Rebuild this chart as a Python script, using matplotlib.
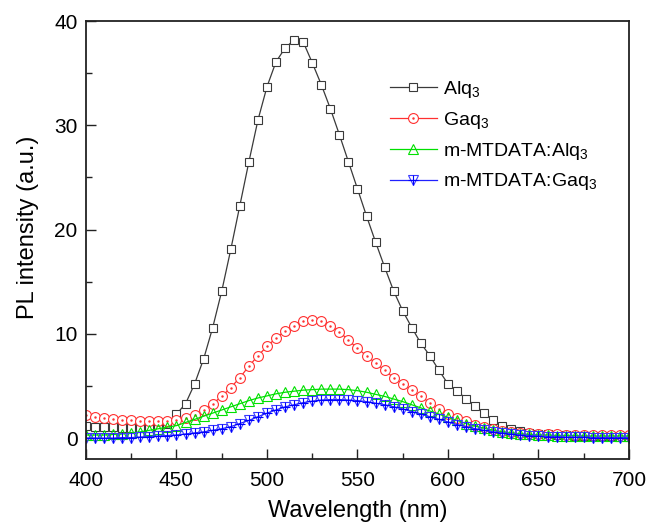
import numpy as np
import matplotlib
matplotlib.use("Agg")
import matplotlib.pyplot as plt
from matplotlib.legend_handler import HandlerTuple

plt.rcParams['font.family'] = ['Liberation Sans', 'DejaVu Sans']
plt.rcParams['mathtext.fontset'] = 'custom'
plt.rcParams['mathtext.rm'] = 'Liberation Sans'
plt.rcParams['mathtext.it'] = 'Liberation Sans:italic'

# panjang gelombang (nm), tiap 5 nm
wavelength = np.arange(400, 705, 5)

alq3 = [1.2, 1.1, 1.1, 1.1, 1.0, 1.0, 1.0, 1.0, 1.1, 1.4,
        2.3, 3.3, 5.2, 7.6, 10.6, 14.1, 18.1, 22.3, 26.5, 30.5,
        33.7, 36.1, 37.4, 38.2, 38.0, 36.0, 33.9, 31.6, 29.1, 26.5,
        23.9, 21.3, 18.8, 16.4, 14.1, 12.2, 10.6, 9.1, 7.9, 6.5,
        5.2, 4.5, 3.8, 3.1, 2.4, 1.7, 1.2, 0.9, 0.7, 0.5,
        0.4, 0.35, 0.3, 0.3, 0.25, 0.25, 0.2, 0.2, 0.2, 0.15, 0.15]

gaq3 = [2.2, 2.05, 1.95, 1.85, 1.75, 1.7, 1.65, 1.6, 1.6, 1.65,
        1.75, 1.9, 2.2, 2.65, 3.3, 4.0, 4.85, 5.8, 6.9, 7.9,
        8.8, 9.6, 10.3, 10.8, 11.2, 11.3, 11.2, 10.8, 10.2, 9.4,
        8.6, 7.9, 7.2, 6.5, 5.8, 5.2, 4.6, 4.0, 3.4, 2.8,
        2.35, 1.95, 1.6, 1.3, 1.05, 0.85, 0.7, 0.6, 0.5, 0.45,
        0.4, 0.35, 0.35, 0.3, 0.3, 0.3, 0.3, 0.3, 0.3, 0.3, 0.3]

mtdata_alq3 = [0.3, 0.3, 0.3, 0.35, 0.4, 0.5, 0.6, 0.75, 0.9, 1.05,
               1.2, 1.5, 1.8, 2.1, 2.4, 2.7, 3.0, 3.3, 3.6, 3.85,
               4.05, 4.25, 4.4, 4.5, 4.6, 4.65, 4.7, 4.7, 4.7, 4.65,
               4.55, 4.4, 4.2, 4.0, 3.75, 3.5, 3.2, 2.9, 2.6, 2.3,
               2.0, 1.7, 1.4, 1.15, 0.95, 0.75, 0.6, 0.5, 0.4, 0.35,
               0.3, 0.3, 0.25, 0.25, 0.25, 0.2, 0.2, 0.2, 0.2, 0.2, 0.2]

mtdata_gaq3 = [0.0, 0.0, 0.0, 0.0, 0.05, 0.05, 0.1, 0.15, 0.2, 0.25,
               0.3, 0.4, 0.5, 0.6, 0.75, 0.9, 1.1, 1.4, 1.7, 2.05,
               2.4, 2.7, 3.0, 3.2, 3.4, 3.55, 3.65, 3.7, 3.7, 3.65,
               3.6, 3.5, 3.35, 3.2, 3.0, 2.8, 2.55, 2.3, 2.05, 1.8,
               1.55, 1.3, 1.1, 0.9, 0.75, 0.6, 0.5, 0.4, 0.3, 0.25,
               0.2, 0.15, 0.15, 0.1, 0.1, 0.1, 0.05, 0.05, 0.05, 0.05, 0.05]

labels = ['Alq$_3$', 'Gaq$_3$', 'm-MTDATA:Alq$_3$', 'm-MTDATA:Gaq$_3$']

fig = plt.figure(figsize=(6.6, 5.23), dpi=100)
ax = fig.add_axes([0.1303, 0.1224, 0.8227, 0.8374])

ms = 6.3
mew = 0.8
lw = 0.9

h1, = ax.plot(wavelength, alq3, color='#3a3a3a', lw=lw, marker='s', ms=ms,
              mfc='white', mec='#3a3a3a', mew=mew)

h2, = ax.plot(wavelength, gaq3, color='#ff3030', lw=lw, marker='o', ms=ms + 0.8,
              mfc='white', mec='#ff3030', mew=mew)
h2b, = ax.plot(wavelength, gaq3, ls='none', marker='.', ms=1.5, color='#ff3030')

h3, = ax.plot(wavelength, mtdata_alq3, color='#00e000', lw=lw, marker='^', ms=ms + 1,
              mfc='none', mec='#00e000', mew=mew)

h4, = ax.plot(wavelength, mtdata_gaq3, color='#2020ff', lw=lw, marker='v', ms=ms + 1,
              mfc='none', mec='#3a3aff', mew=mew)
h4b, = ax.plot(wavelength, mtdata_gaq3, ls='none', marker='+', ms=ms + 1,
               mec='#0000ff', mew=mew)

ax.set_xlim(400, 700)
ax.set_ylim(-2, 39.6)
ax.set_xticks(np.arange(400, 701, 50))
ax.set_xticks(np.arange(425, 700, 50), minor=True)
ax.set_yticks([0, 10, 20, 30, 40])
ax.set_yticks([5, 15, 25, 35], minor=True)

ax.tick_params(which='both', direction='in', top=False, right=False,
               labelsize=15, color='#222222', width=1.0)
ax.tick_params(axis='x', which='major', length=7, pad=9)
ax.tick_params(axis='x', which='minor', length=4)
ax.tick_params(axis='y', which='major', length=7, pad=6)
ax.tick_params(axis='y', which='minor', length=4)
for s in ax.spines.values():
    s.set_linewidth(1.3)
    s.set_color('#222222')

ax.set_xlabel('Wavelength (nm)', fontsize=17)
ax.set_ylabel('PL intensity (a.u.)', fontsize=17)
ax.xaxis.set_label_coords(0.5, -0.093)
ax.yaxis.set_label_coords(-0.086, 0.53)

ax.legend([h1, (h2, h2b), h3, (h4, h4b)], labels,
          handler_map={tuple: HandlerTuple(ndivide=1, pad=0)},
          loc='upper left', bbox_to_anchor=(0.56, 0.867), frameon=False,
          fontsize=14, handlelength=2.4, handletextpad=0.3,
          labelspacing=0.5, borderpad=0, borderaxespad=0)

fig.savefig('out.png', dpi=100)
